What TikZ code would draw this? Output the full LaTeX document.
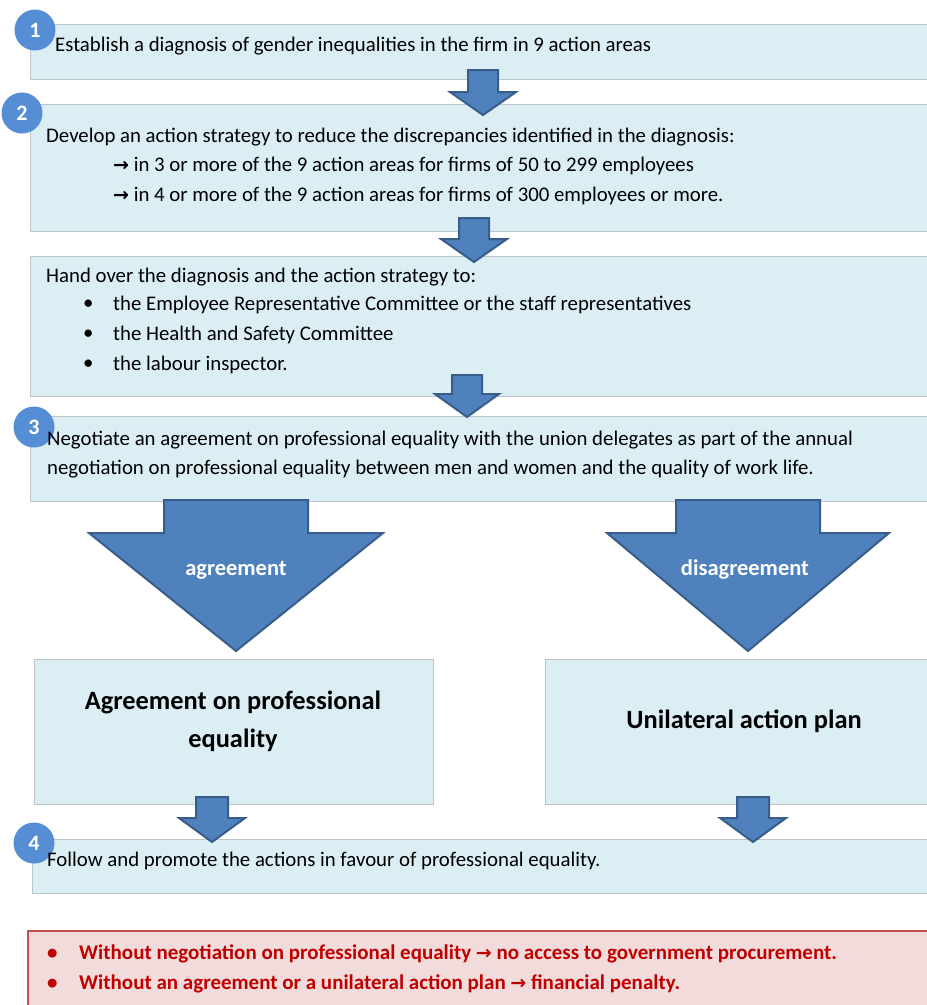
\documentclass[tikz,border=0pt]{standalone}
\usepackage{fontspec}
\setmainfont{Carlito}
\newfontfamily\symfont{DejaVu Sans}
\newcommand\rarr{{\symfont\bfseries\fontsize{19}{19}\selectfont →}}
\definecolor{boxfill}{HTML}{DBEEF4}
\definecolor{boxline}{HTML}{BFC4C8}
\definecolor{arrfill}{HTML}{4F81BD}
\definecolor{arrline}{HTML}{385D8A}
\definecolor{circfill}{HTML}{558ED5}
\definecolor{redfill}{HTML}{F2DCDB}
\definecolor{redline}{HTML}{C0504D}
\definecolor{redtext}{HTML}{C00000}
\newcommand\blockarrow[7]{% name, cx, top, shaft half, head half, head base y, tip y
  \draw[blockarr] ({#2-#4},#3) -- ({#2+#4},#3) -- ({#2+#4},#6) -- ({#2+#5},#6)
    -- (#2,#7) -- ({#2-#5},#6) -- ({#2-#4},#6) -- cycle;
  \coordinate (#1) at (#2,{(#3+#7)/2});}
\begin{document}
\begin{tikzpicture}[x=1pt,y=-1pt,
  box/.style={draw=boxline, line width=0.8pt, fill=boxfill, inner sep=0pt, anchor=north west},
  blockarr/.style={draw=arrline, line width=2pt, fill=arrfill, line join=miter},
  num/.style={circle, fill=circfill, minimum size=41pt, inner sep=0pt, text=white, font=\fontsize{22}{22}\selectfont\bfseries},
  txt/.style={anchor=west, inner sep=0pt, font=\fontsize{20.8}{24}\selectfont},
  big/.style={align=center, inner sep=0pt, font=\fontsize{26.4}{38}\selectfont\bfseries},
  lab/.style={inner sep=0pt, text=white, font=\fontsize{22.5}{24}\selectfont\bfseries},
  red/.style={anchor=west, inner sep=0pt, text=redtext, font=\fontsize{21}{24}\selectfont\bfseries}]
\useasboundingbox (0,0) rectangle (927,1005);
% boxes
\node[box, minimum width=905pt, minimum height=55pt] (b1) at (30,24) {};
\node[box, minimum width=905pt, minimum height=127pt] (b2) at (30,104) {};
\node[box, minimum width=905pt, minimum height=140pt] (b3) at (30,256) {};
\node[box, minimum width=905pt, minimum height=85pt] (b4) at (30,416) {};
\node[box, minimum width=399pt, minimum height=145pt] (ba) at (34,659) {};
\node[box, minimum width=390pt, minimum height=145pt] (bb) at (545,659) {};
\node[box, minimum width=903pt, minimum height=54pt] (b5) at (32,839) {};
\node[box, draw=redline, line width=2pt, fill=redfill, minimum width=910pt, minimum height=80pt] (br) at (27,930) {};
% arrows
\blockarrow{a1}{483}{70}{15}{33}{92}{115}
\blockarrow{a2}{474}{218}{15}{33}{239}{262}
\blockarrow{a3}{467}{375}{15}{32}{394}{417}
\blockarrow{aL}{236}{500}{72}{147}{533}{651}
\blockarrow{aR}{748}{500}{72}{141}{533}{651}
\blockarrow{a4}{212}{797}{16}{33}{818}{842}
\blockarrow{a5}{753}{797}{16}{33}{818}{842}
% circles
\node[num] (n1) at (35,30) {1};
\node[num] (n2) at (22,113) {2};
\node[num] (n3) at (34,427) {3};
\node[num] (n4) at (34,843) {4};
% texts
\node[txt] (t1) at (55,46) {Establish a diagnosis of gender inequalities in the firm in 9 action areas};
\node[txt] (t2) at (46,137) {Develop an action strategy to reduce the discrepancies identified in the diagnosis:};
\node[txt] (t2a) at (113,166) {\rarr\ in 3 or more of the 9 action areas for firms of 50 to 299 employees};
\node[txt] (t2b) at (113,196) {\rarr\ in 4 or more of the 9 action areas for firms of 300 employees or more.};
\node[txt] (t3) at (46,277) {Hand over the diagnosis and the action strategy to:};
\node[txt] (t3a) at (113,305) {the Employee Representative Committee or the staff representatives};
\node[txt] (t3b) at (113,335) {the Health and Safety Committee};
\node[txt] (t3c) at (113,365) {the labour inspector.};
\foreach \y/\n in {305/p1,335/p2,365/p3}{\node[txt] (\n) at (83,\y) {•};}
\node[txt] (t4a) at (47,440) {Negotiate an agreement on professional equality with the union delegates as part of the annual};
\node[txt] (t4b) at (47,469) {negotiation on professional equality between men and women and the quality of work life.};
\node[lab] (lL) at (236,570) {agreement};
\node[lab] (lR) at (745,570) {disagreement};
\node[big] (tA) at (233,721) {Agreement on professional\\equality};
\node[big] (tB) at (744,721) {Unilateral action plan};
\node[txt] (t5) at (47,861) {Follow and promote the actions in favour of professional equality.};
\node[red] (r1) at (79,954) {Without negotiation on professional equality \rarr\ no access to government procurement.};
\node[red] (r2) at (79,984) {Without an agreement or a unilateral action plan \rarr\ financial penalty.};
\foreach \y/\n in {954/q1,984/q2}{\node[red] (\n) at (47,\y) {•};}
\end{tikzpicture}
\end{document}
